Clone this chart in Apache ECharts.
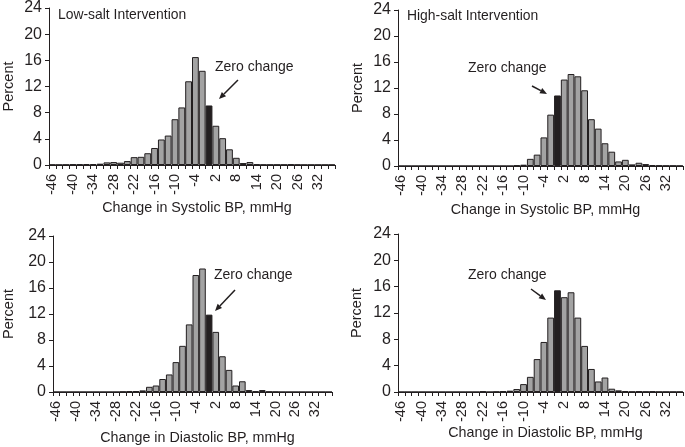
<!DOCTYPE html>
<html>
<head>
<meta charset="utf-8">
<script src="https://cdn.jsdelivr.net/npm/echarts@6/dist/echarts.min.js"></script>
<style>html,body{margin:0;padding:0;background:#fff}#c{width:685px;height:447px}</style>
</head>
<body>
<div id="c"></div>
<script>
// Bin centres (mmHg), width 2
const bins = [-46,-44,-42,-40,-38,-36,-34,-32,-30,-28,-26,-24,-22,-20,-18,-16,-14,-12,-10,-8,-6,-4,-2,0,2,4,6,8,10,12,14,16,18,20,22,24,26,28,30,32,34,36];
const lowSys  = [0.05,0.03,0.05,0.1,0.1,0.15,0.15,0.2,0.4,0.45,0.35,0.6,1.2,1.25,1.8,2.6,3.9,4.5,7.0,8.8,12.8,16.5,14.4,9.1,6.0,4.1,2.4,1.1,0.3,0.45,0.1,0.05,0.05,0.05,0.05,0.1,0.05,0.03,0.03,0.03,0.03,0.03];
const highSys = [0,0,0,0,0,0,0,0,0,0,0,0,0,0,0,0,0,0.1,0.2,1.1,1.75,4.4,7.9,10.85,13.3,14.15,13.8,11.65,7.2,5.75,3.5,2.2,0.7,0.95,0.25,0.5,0.3,0.15,0.08,0.05,0.05,0.03];
const lowDia  = [0,0,0,0,0,0,0,0,0,0,0.05,0.1,0.15,0.25,0.8,1.0,2.0,2.7,4.6,7.1,10.4,18.0,19.0,11.9,9.25,5.5,3.4,1.0,1.65,0.3,0.1,0.3,0.05,0.03,0,0,0,0,0,0,0,0];
const highDia = [0,0,0,0,0,0,0,0,0,0,0,0,0.1,0,0.05,0.12,0.2,0.45,1.2,2.3,5.0,7.6,11.3,15.45,14.4,15.15,11.3,7.0,3.5,1.6,2.2,0.5,0.25,0.15,0.05,0.1,0.05,0.1,0.03,0.03,0.03,0.03];
const yMin = 0, yMax = 24, yStep = 4;
const panelTitles = ['Low-salt Intervention', 'High-salt Intervention', '', ''];
const xNames = ['Change in Systolic BP, mmHg','Change in Systolic BP, mmHg','Change in Diastolic BP, mmHg','Change in Diastolic BP, mmHg'];
const yName = 'Percent';
const noteText = 'Zero change';
const zeroBin = 0;

const FONT = '"Liberation Sans", Arial, sans-serif';
const TXT = '#231f20';
const grids = [
  {left: 49, top: 5, width: 286, height: 160},
  {left: 398, top: 10, width: 285, height: 156},
  {left: 49, top: 236, width: 283, height: 156},
  {left: 398, top: 234, width: 285, height: 158}
];
const xNameGap = [36, 37, 39, 31];
const yNameGap = [33, 33, 37, 34];
const seriesData = [lowSys, highSys, lowDia, highDia];

const xAxes = grids.map((g, i) => ({
  type: 'category', gridIndex: i, data: bins.map(String),
  axisLine: {lineStyle: {color: TXT, width: 1}},
  axisTick: {show: true, interval: 0, length: 4, lineStyle: {color: TXT}},
  axisLabel: {interval: 2, rotate: 90, fontSize: 14.5, color: TXT, fontFamily: FONT, margin: 9},
  name: xNames[i], nameLocation: 'middle', nameGap: xNameGap[i],
  nameTextStyle: {fontSize: 14.3, color: TXT, fontFamily: FONT, padding: [0, 0, 0, 10]}
}));
const yAxes = grids.map((g, i) => ({
  type: 'value', gridIndex: i, min: yMin, max: yMax, interval: yStep,
  axisLine: {show: true, lineStyle: {color: TXT, width: 1}},
  axisTick: {show: true, length: 4, lineStyle: {color: TXT}},
  splitLine: {show: false},
  axisLabel: {fontSize: 16, color: TXT, fontFamily: FONT, margin: 7},
  name: yName, nameLocation: 'middle', nameGap: yNameGap[i],
  nameTextStyle: {fontSize: 14.5, color: TXT, fontFamily: FONT}
}));
const series = seriesData.map((arr, i) => ({
  type: 'bar', xAxisIndex: i, yAxisIndex: i, barCategoryGap: '0%',
  data: arr.map((v, k) => bins[k] === zeroBin
    ? {value: v, itemStyle: {color: '#231f20'}}
    : v),
  itemStyle: {color: '#a3a3a3', borderColor: '#231f20', borderWidth: 1},
  silent: true, animation: false
}));

function arrow(x1, y1, x2, y2) {
  const dx = x2 - x1, dy = y2 - y1, L = Math.hypot(dx, dy);
  const ux = dx / L, uy = dy / L, px = -uy, py = ux;
  const hl = 7, hw = 3;
  const bx = x2 - ux * hl, by = y2 - uy * hl;
  return [
    {type: 'line', shape: {x1: x1, y1: y1, x2: bx, y2: by}, style: {stroke: TXT, lineWidth: 1.5}},
    {type: 'polygon', shape: {points: [[x2, y2], [bx + px * hw, by + py * hw], [bx - px * hw, by - py * hw]]}, style: {fill: TXT}}
  ];
}
const notes = [
  {tx: 215, ty: 60, a: [238, 80, 219, 99]},
  {tx: 468, ty: 61, a: [532, 86, 547, 94]},
  {tx: 214, ty: 268, a: [235, 290, 215, 311]},
  {tx: 468, ty: 268, a: [531, 289, 546, 300]}
];
const graphic = [];
notes.forEach(n => {
  graphic.push({type: 'text', left: n.tx, top: n.ty, style: {text: noteText, fontSize: 14, fill: TXT, fontFamily: FONT}});
  arrow(...n.a).forEach(e => graphic.push(e));
});
graphic.push({type: 'text', left: 58, top: 8, style: {text: panelTitles[0], fontSize: 13.9, fill: TXT, fontFamily: FONT}});
graphic.push({type: 'text', left: 407, top: 9, style: {text: panelTitles[1], fontSize: 13.9, fill: TXT, fontFamily: FONT}});

const chart = echarts.init(document.getElementById('c'), null, {renderer: 'canvas'});
chart.setOption({
  animation: false,
  backgroundColor: '#fff',
  grid: grids,
  xAxis: xAxes,
  yAxis: yAxes,
  series: series,
  graphic: graphic
});
</script>
</body>
</html>
